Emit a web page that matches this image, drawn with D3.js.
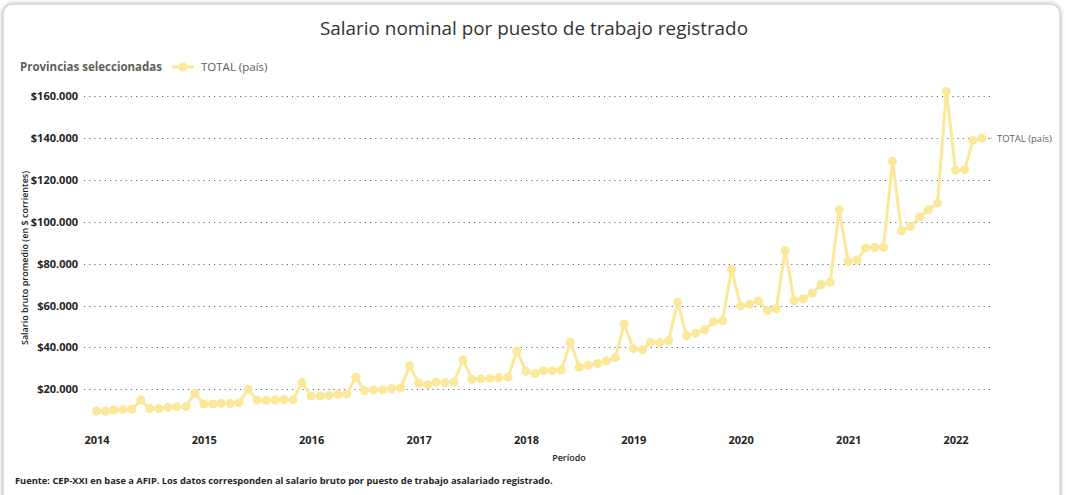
<!DOCTYPE html>
<html>
<head>
<meta charset="utf-8">
<script src="https://cdn.jsdelivr.net/npm/d3@7"></script>
<style>
  html, body { margin: 0; padding: 0; background: #ffffff; }
  svg { display: block; font-family: "Open Sans", "Noto Sans", sans-serif; }
</style>
</head>
<body>
<svg id="chart" width="1066" height="495"></svg>
<script>
// ---- Data (monthly, Jan 2014 – Apr 2022), thousands of pesos ----
const startYear = 2014;
const startMonth = 0; // January
const seriesName = "TOTAL (país)";
const values2014 = [9.6, 9.5, 10.1, 10.3, 10.5, 14.9, 10.8, 10.8, 11.4, 11.7, 11.7, 18.1];
const values2015 = [13.0, 13.0, 13.3, 13.3, 13.6, 20.0, 14.9, 14.8, 14.9, 15.1, 15.1, 23.2];
const values2016 = [16.8, 16.8, 17.1, 17.6, 17.8, 25.8, 19.4, 19.7, 19.8, 20.3, 20.6, 31.2];
const values2017 = [23.0, 22.2, 23.4, 23.2, 23.5, 34.0, 24.8, 25.0, 25.2, 25.6, 25.8, 38.3];
const values2018 = [28.6, 27.5, 28.9, 28.9, 29.2, 42.5, 30.5, 31.5, 32.3, 33.5, 35.1, 51.2];
const values2019 = [39.3, 38.8, 42.5, 42.3, 43.2, 61.6, 45.5, 46.8, 48.4, 52.3, 52.7, 77.3];
const values2020 = [59.8, 60.6, 62.2, 57.6, 58.5, 86.2, 62.3, 63.2, 65.9, 70.0, 71.1, 105.7];
const values2021 = [81.0, 81.7, 87.4, 87.7, 87.8, 128.8, 95.7, 97.7, 102.2, 105.7, 108.9, 162.2];
const values2022 = [124.5, 124.8, 138.8, 139.9];
const yTicks = [20000, 40000, 60000, 80000, 100000, 120000, 140000, 160000];
const xTickYears = [2014, 2015, 2016, 2017, 2018, 2019, 2020, 2021, 2022];

const allValues = [].concat(values2014, values2015, values2016, values2017, values2018,
                            values2019, values2020, values2021, values2022);
const data = allValues.map((v, i) => ({
  date: new Date(startYear, startMonth + i, 1),
  value: v * 1000
}));

// ---- Layout ----
const svg = d3.select("#chart");
const plotLeft = 84, plotRight = 990;

// Card
const defs = svg.append("defs");
const f = defs.append("filter").attr("id", "sh").attr("x", "-5%").attr("y", "-5%").attr("width", "110%").attr("height", "110%");
f.append("feDropShadow").attr("dx", 0).attr("dy", 0).attr("stdDeviation", 2).attr("flood-color", "#000").attr("flood-opacity", 0.35);
svg.append("rect").attr("x", 3).attr("y", 4).attr("width", 1057).attr("height", 500)
  .attr("rx", 10).attr("fill", "#fff").attr("stroke", "#c8c8c8").attr("filter", "url(#sh)");

// Scales
const x = d3.scaleTime()
  .domain([new Date(2014, 0, 1), new Date(2022, 0, 1)])
  .range([96.5, 955.5]);
const y = d3.scaleLinear().domain([0, 160000]).range([431.2, 96]);

// Title
svg.append("text").attr("x", 534).attr("y", 35).attr("text-anchor", "middle")
  .attr("font-size", 19).attr("fill", "#333333").attr("font-weight", 400)
  .attr("textLength", 428).attr("lengthAdjust", "spacingAndGlyphs")
  .style("font-family", "'Open Sans', sans-serif")
  .text("Salario nominal por puesto de trabajo registrado");

// Legend
const lineColor = "#FBE89A";
svg.append("text").attr("x", 20).attr("y", 71).attr("font-size", 11.5).attr("font-weight", 700)
  .attr("fill", "#605E5C").text("Provincias seleccionadas");
svg.append("line").attr("x1", 172).attr("x2", 194).attr("y1", 67).attr("y2", 67)
  .attr("stroke", lineColor).attr("stroke-width", 3);
svg.append("circle").attr("cx", 183).attr("cy", 67).attr("r", 4.5).attr("fill", lineColor);
svg.append("text").attr("x", 201).attr("y", 71).attr("font-size", 11.5)
  .attr("fill", "#605E5C").text(seriesName);

// Gridlines
const fmt = v => "$" + d3.format(",")(v).replace(/,/g, ".");
svg.append("g").selectAll("line").data(yTicks).join("line")
  .attr("x1", plotLeft).attr("x2", plotRight)
  .attr("y1", d => Math.round(y(d)) + 0.5).attr("y2", d => Math.round(y(d)) + 0.5)
  .attr("stroke", "#6b6b6b").attr("stroke-width", 1.2).attr("stroke-dasharray", "1.2,4");

// Y axis labels
const yAxis = d3.axisLeft(y).tickValues(yTicks).tickFormat(fmt).tickSize(0).tickPadding(0);
const gy = svg.append("g").attr("transform", "translate(78,0)").call(yAxis);
gy.select(".domain").remove();
gy.selectAll("text").attr("font-size", 11).attr("font-weight", 700).attr("fill", "#252423")
  .style("font-family", "'Open Sans', sans-serif");

// X axis labels
const xAxis = d3.axisBottom(x).tickValues(xTickYears.map(yy => new Date(yy, 0, 1)))
  .tickFormat(d3.timeFormat("%Y")).tickSize(0).tickPadding(0);
const gx = svg.append("g").attr("transform", "translate(0,436)").call(xAxis);
gx.select(".domain").remove();
gx.selectAll("text").attr("font-size", 11).attr("font-weight", 700).attr("fill", "#252423")
  .style("font-family", "'Open Sans', sans-serif");

// Axis titles
svg.append("text").attr("x", 569).attr("y", 461).attr("text-anchor", "middle")
  .attr("font-size", 9).attr("font-weight", 600).attr("fill", "#252423").text("Período");
svg.append("text").attr("transform", "translate(28,258) rotate(-90)").attr("text-anchor", "middle")
  .attr("font-size", 9).attr("font-weight", 600).attr("fill", "#252423")
  .text("Salario bruto promedio (en $ corrientes)");

// Line + points
const line = d3.line().x(d => x(d.date)).y(d => y(d.value));
svg.append("path").datum(data).attr("d", line).attr("fill", "none")
  .attr("stroke", lineColor).attr("stroke-width", 3).attr("stroke-linejoin", "round");
svg.append("g").selectAll("circle").data(data).join("circle")
  .attr("cx", d => x(d.date)).attr("cy", d => y(d.value)).attr("r", 4.5).attr("fill", lineColor);

// End label
const last = data[data.length - 1];
svg.append("line").attr("x1", x(last.date) + 6).attr("x2", x(last.date) + 12)
  .attr("y1", y(last.value)).attr("y2", y(last.value)).attr("stroke", "#999").attr("stroke-dasharray", "1,2");
svg.append("text").attr("x", x(last.date) + 15).attr("y", y(last.value) + 3.5)
  .attr("font-size", 9.5).attr("fill", "#605E5C").text(seriesName);

// Footer
svg.append("text").attr("x", 15).attr("y", 484).attr("font-size", 9.3).attr("font-weight", 700)
  .attr("fill", "#252423")
  .text("Fuente: CEP-XXI en base a AFIP. Los datos corresponden al salario bruto por puesto de trabajo asalariado registrado.");
</script>
</body>
</html>
